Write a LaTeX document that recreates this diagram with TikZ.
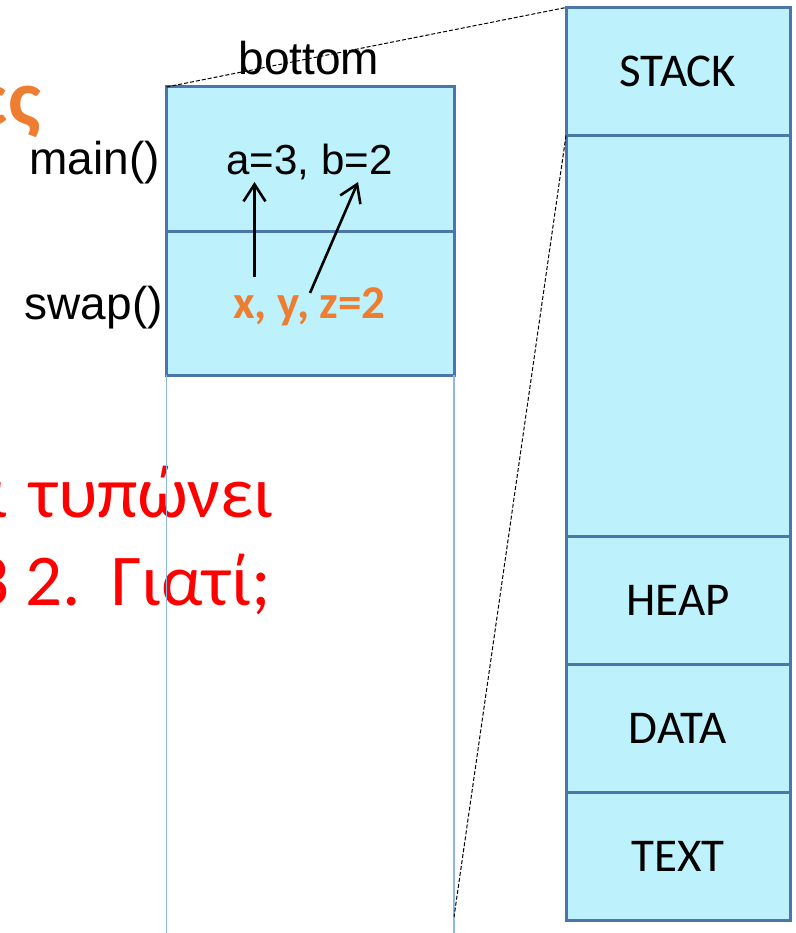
\documentclass[tikz,border=0pt]{standalone}
\usepackage{fontspec}
\setmainfont{Liberation Sans}
\newfontfamily\calfont{Carlito}
\usetikzlibrary{arrows.meta}
\definecolor{boxfill}{HTML}{BDF1FC}
\definecolor{boxblue}{HTML}{4A76A8}
\definecolor{thinblue}{HTML}{8DB6E2}
\definecolor{accent}{HTML}{ED7D31}
\tikzset{
  seg/.style n args={2}{draw=boxblue, fill=boxfill, line width=3pt, anchor=north west,
    inner sep=0pt, outer sep=0pt, minimum width=#1, minimum height=#2,
    font=\calfont\fontsize{47}{50}\selectfont},
  lbl/.style={inner sep=0pt, font=\fontsize{46}{50}\selectfont},
  question/.style={anchor=base east, inner sep=0pt, text=red, font=\calfont\fontsize{73}{80}\selectfont},
  zoomline/.style={black, line width=1pt, dash pattern=on 4pt off 2pt},
  guide/.style={thinblue, line width=1.8pt},
  ptr/.style={black, line width=2.6pt, -{Straight Barb[length=17pt, width=22pt, line width=2.6pt]}}
}
\begin{document}
\begin{tikzpicture}[x=1pt, y=-1pt]
\useasboundingbox (0,0) rectangle (795,933);
\clip (0,0) rectangle (795,933);
% clipped slide text
\node[anchor=base east, inner sep=0pt, text=accent, font=\calfont\bfseries\fontsize{80}{84}\selectfont] (title) at (41,126) {ες};
\node[question] (q1) at (274,517) {α\hspace{6pt} τυπώνει};
\node[question] (q2) at (271,605) {3 2.\hspace{8pt} Γιατί;};
% left stack
\node[seg={287.5pt}{144pt}] (mainf) at (166.5,87) {};
\node[seg={287.5pt}{144pt}] (swapf) at (166.5,231) {};
\coordinate (lbot) at (166.5,933);
\coordinate (rbot) at (454,933);
\draw[guide] (swapf.south west) -- (lbot);
\draw[guide] (swapf.south east) -- (rbot);
% right memory layout
\node[seg={224pt}{128pt}] (stack) at (566,7.5) {STACK};
\node[seg={224pt}{400.5pt}] (free) at (566,135.5) {};
\node[seg={224pt}{128pt}] (heap) at (566,536) {HEAP};
\node[seg={224pt}{128pt}] (data) at (566,664) {DATA};
\node[seg={224pt}{128pt}] (textseg) at (566,792) {TEXT};
% labels
\node[lbl, anchor=base] (bottom) at (309,75) {bottom};
\node[lbl, anchor=base east] (mainl) at (160,175) {main()};
\node[lbl, anchor=base east] (swapl) at (163,319) {swap()};
\node[anchor=base, inner sep=0pt, font=\fontsize{42}{45}\selectfont] (vals) at (309.5,175) {a=3, b=2};
\node[anchor=base, inner sep=0pt, text=accent, font=\calfont\bfseries\fontsize{47}{50}\selectfont] (params) at (309.5,318) {x, y, z=2};
% pointers
\coordinate (xs) at (254.5,277);
\coordinate (ya) at (254.5,182);
\coordinate (ys) at (310,293);
\coordinate (yb) at (358,182);
\draw[ptr] (xs) -- (ya);
\draw[ptr] (ys) -- (yb);
% zoom lines
\coordinate (zend) at (454,917);
\draw[zoomline] (mainf.north west) -- (stack.north west);
\draw[zoomline] (free.north west) -- (zend);
\end{tikzpicture}
\end{document}
